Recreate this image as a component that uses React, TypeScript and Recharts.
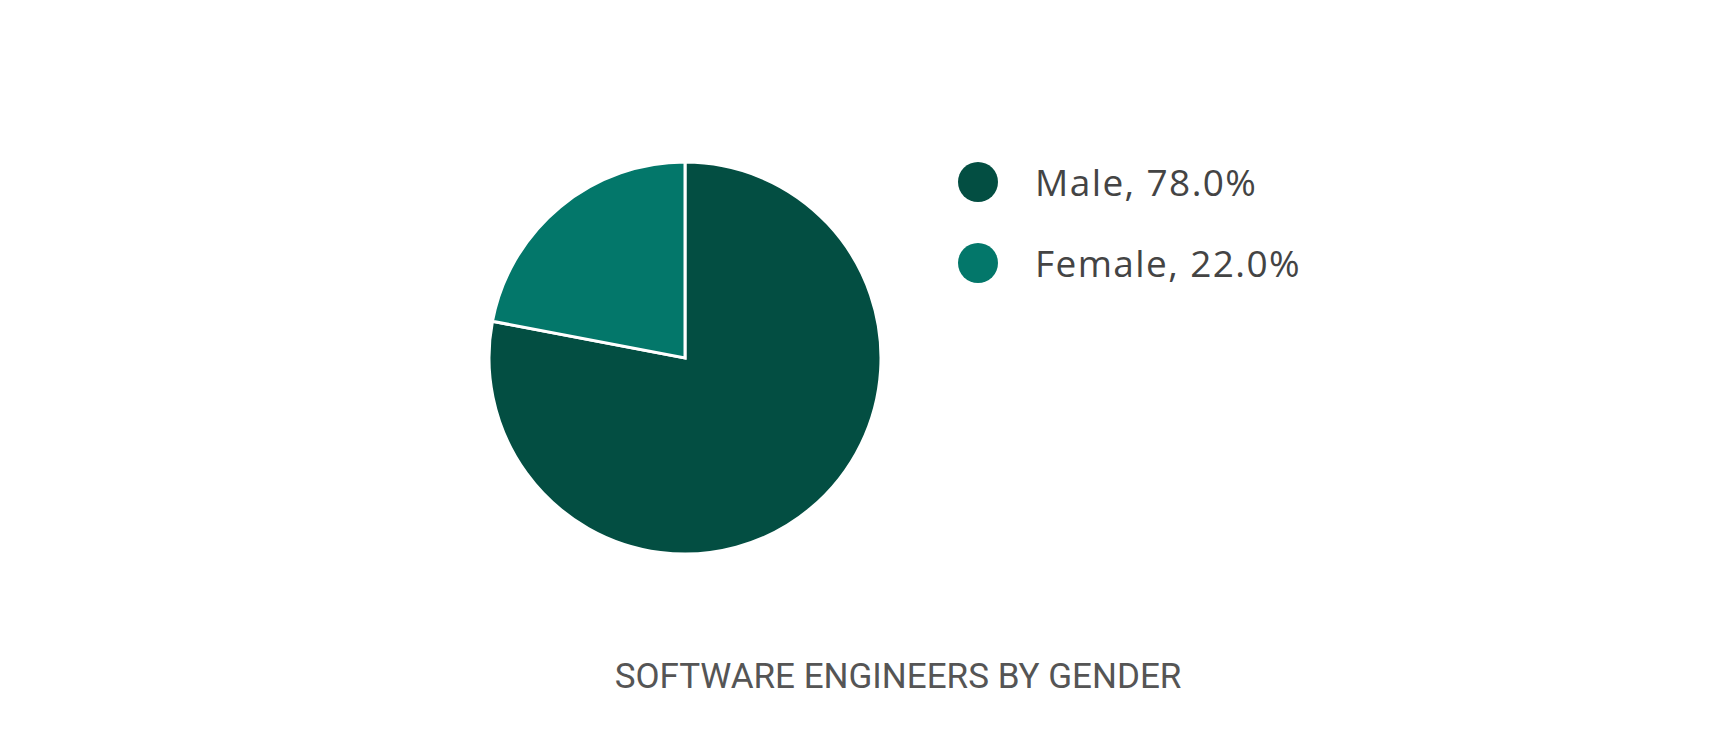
import React from "react";
import { PieChart, Pie, Cell, Legend } from "recharts";

const categories = ["Male", "Female"];
const values = [78.0, 22.0];
const colors = ["#034e42", "#03776a"];
const title = "SOFTWARE ENGINEERS BY GENDER";

const data = categories.map((name, i) => ({ name, value: values[i] }));

const LegendContent = () => {
  return (
    <div>
      {data.map((d, i) => (
        <div
          key={d.name}
          style={{ display: "flex", alignItems: "center", height: 81 }}
        >
          <span
            style={{
              width: 40,
              height: 40,
              borderRadius: "50%",
              background: colors[i],
              display: "inline-block",
              marginRight: 37,
              flexShrink: 0,
            }}
          />
          <span
            style={{
              fontFamily: "'Open Sans', sans-serif",
              fontSize: 37,
              letterSpacing: 1.4,
              color: "#444444",
              lineHeight: "40px",
              whiteSpace: "nowrap",
            }}
          >
            {d.name}, {d.value.toFixed(1)}%
          </span>
        </div>
      ))}
    </div>
  );
};

export default function App() {
  return (
    <div style={{ position: "relative", width: 1719, height: 721, background: "#fff" }}>
      <PieChart width={1719} height={721}>
        <Pie
          data={data}
          dataKey="value"
          nameKey="name"
          cx={672}
          cy={345}
          outerRadius={196}
          startAngle={90}
          endAngle={-270}
          stroke="#ffffff"
          strokeWidth={3}
          isAnimationActive={false}
        >
          {data.map((d, i) => (
            <Cell key={d.name} fill={colors[i]} />
          ))}
        </Pie>
        <Legend
          layout="vertical"
          content={<LegendContent />}
          wrapperStyle={{ position: "absolute", left: 950, top: 133, width: 500 }}
        />
      </PieChart>
      <div
        style={{
          position: "absolute",
          left: 490,
          width: 800,
          top: 649,
          textAlign: "center",
          fontFamily: "Roboto, sans-serif",
          fontSize: 35,
          color: "#555555",
          lineHeight: "40px",
          whiteSpace: "nowrap",
        }}
      >
        {title}
      </div>
    </div>
  );
}
